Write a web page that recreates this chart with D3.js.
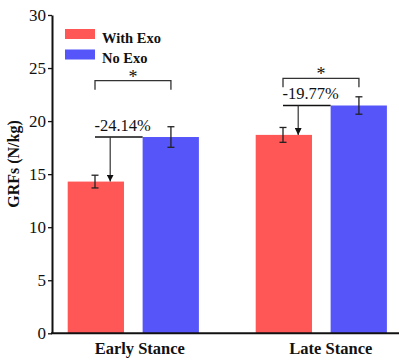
<!DOCTYPE html>
<html><head><meta charset="utf-8">
<script src="https://cdn.jsdelivr.net/npm/d3@7"></script>
<style>body{margin:0;background:#fff}svg{display:block}svg text{font-family:"Liberation Serif","Times New Roman",Times,"DejaVu Serif",serif !important}</style>
</head><body>
<svg id="c" width="399" height="360"></svg>
<script>
const categories = ["Early Stance", "Late Stance"];
const series = ["With Exo", "No Exo"];
const withExo = [14.3, 18.7];
const noExo = [18.5, 21.47];
const withExoErr = [0.6, 0.7];
const noExoErr = [0.97, 0.82];
const percentLabels = ["-24.14%", "-19.77%"];
const yTicks = [0, 5, 10, 15, 20, 25, 30];
const colors = ["#ff5656", "#5555fa"];

const svg = d3.select("#c");
const y = d3.scaleLinear().domain([0, 30]).range([333.3, 15]);
const x0 = d3.scaleBand().domain(categories).range([39.3, 415.3]).paddingInner(0);
const x1 = d3.scaleBand().domain(series).range([28.4, 159.6]).paddingInner(0.249).paddingOuter(0);
const vals = [withExo, noExo], errs = [withExoErr, noExoErr];

// bars
categories.forEach((c, i) => {
  series.forEach((s, j) => {
    svg.append("rect").attr("x", x0(c) + x1(s)).attr("y", y(vals[j][i]))
      .attr("width", x1.bandwidth()).attr("height", y(0) - y(vals[j][i]))
      .attr("fill", colors[j]);
  });
});

// error bars
categories.forEach((c, i) => {
  series.forEach((s, j) => {
    const v = vals[j][i], e = errs[j][i];
    const g = svg.append("g").attr("stroke", "#222").attr("stroke-width", 1.3);
    const ex = j === 0 ? x0(c) + x1(s) + 27.3 : x0(c) + x1(s) + 28.3;
    g.append("line").attr("x1", ex).attr("x2", ex).attr("y1", y(v + e)).attr("y2", y(v - e));
    g.append("line").attr("x1", ex - 3.5).attr("x2", ex + 3.5).attr("y1", y(v + e)).attr("y2", y(v + e));
    g.append("line").attr("x1", ex - 3.5).attr("x2", ex + 3.5).attr("y1", y(v - e)).attr("y2", y(v - e));
  });
});

// arrow marker
svg.append("defs").append("marker").attr("id", "ah").attr("viewBox", "0 0 10 10")
  .attr("refX", 10).attr("refY", 5).attr("markerWidth", 7).attr("markerHeight", 7)
  .attr("markerUnits", "userSpaceOnUse").attr("orient", "auto")
  .append("path").attr("d", "M0,0L10,5L0,10Z").attr("fill", "#111");

// annotations
categories.forEach((c, i) => {
  const redX = x0(c) + x1(series[0]);
  const blueX = x0(c) + x1(series[1]);
  const lx = redX + 27.3, rx = blueX + 28.3;
  const top = y(noExo[i]);
  const bTop = i === 0 ? 80.7 : 78.3;
  const bLeg = bTop + 9;
  svg.append("path").attr("d", `M${lx},${bLeg}V${bTop}H${rx}V${bLeg}`)
    .attr("fill", "none").attr("stroke", "#333").attr("stroke-width", 1.3);
  svg.append("text").attr("x", (lx + rx) / 2).attr("y", bTop + 2).attr("text-anchor", "middle")
    .attr("font-size", 18).attr("fill", "#111").text("*");
  svg.append("line").attr("x1", lx).attr("x2", blueX).attr("y1", top).attr("y2", top)
    .attr("stroke", "#111").attr("stroke-width", 1.3);
  const ax = redX + 42.5;
  svg.append("line").attr("x1", ax).attr("x2", ax).attr("y1", top).attr("y2", y(withExo[i]))
    .attr("stroke", "#333").attr("stroke-width", 1.2).attr("marker-end", "url(#ah)");
  svg.append("text").attr("x", lx - 0.5).attr("y", top - 6.5)
    .attr("font-size", 16.5).attr("fill", "#111").text(percentLabels[i]);
});

// y axis
const yAxis = d3.axisLeft(y).tickValues(yTicks).tickSize(4).tickSizeOuter(0).tickPadding(2);
const ga = svg.append("g").attr("transform", "translate(52,0)").call(yAxis);
ga.select(".domain").attr("stroke", "#111").attr("stroke-width", 2);
ga.selectAll(".tick line").attr("stroke", "#111").attr("stroke-width", 1.3);
ga.selectAll(".tick text").attr("font-size", 17).attr("fill", "#111");

// x axis
const xAxis = d3.axisBottom(x0).tickSize(0).tickSizeOuter(0).tickPadding(10);
const gx = svg.append("g").attr("transform", `translate(0,${y(0)})`).call(xAxis);
gx.select(".domain").remove();
svg.append("line").attr("x1", 51).attr("x2", 399).attr("y1", y(0)).attr("y2", y(0))
  .attr("stroke", "#111").attr("stroke-width", 2);
gx.selectAll(".tick").attr("transform", d => `translate(${x0(d) + x0.bandwidth() / 2 + (d === categories[0] ? 6.5 : 9.5)},0)`);
gx.selectAll(".tick text").attr("font-size", 16.5).attr("font-weight", "bold")
  .attr("fill", "#111").attr("dy", "0.71em").attr("y", 9);

// y label
svg.append("text").attr("transform", "translate(19,164) rotate(-90)").attr("text-anchor", "middle")
  .attr("font-size", 16).attr("font-weight", "bold").attr("fill", "#111")
  .text("GRFs (N/kg)");

// legend
series.forEach((s, j) => {
  const ly = j === 0 ? 29 : 49.5;
  svg.append("rect").attr("x", 65).attr("y", ly).attr("width", 30).attr("height", 10).attr("fill", colors[j]);
  svg.append("text").attr("x", 102).attr("y", ly + 13.5).attr("font-size", 14.5)
    .attr("font-weight", "bold").attr("fill", "#111").text(s);
});
</script>
</body></html>
